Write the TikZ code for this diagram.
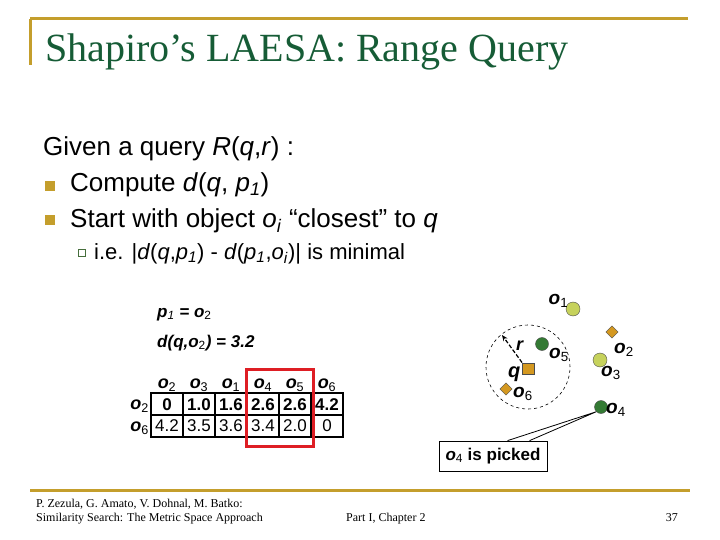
\documentclass[tikz,border=0pt]{standalone}
\usepackage{fontspec}
\setmainfont{Liberation Sans}
\newfontfamily\serifface{Liberation Serif}
\usetikzlibrary{arrows.meta,positioning,shapes.geometric,calc}
\definecolor{slgold}{RGB}{196,158,44}
\definecolor{slgreen}{RGB}{22,92,54}
\definecolor{subgreen}{RGB}{70,110,60}
\definecolor{ptlight}{RGB}{198,210,92}
\definecolor{ptdark}{RGB}{52,122,52}
\definecolor{ptgold}{RGB}{212,152,32}
\definecolor{pickred}{RGB}{222,30,36}
\newcommand{\ob}[1]{\textbf{\textit{o}}\textsubscript{\mdseries\upshape #1}}

\begin{document}
\begin{tikzpicture}[x=1pt,y=-1pt,
  txt/.style={anchor=base west,inner sep=0pt,font=\fontsize{26}{30}\selectfont},
  subtxt/.style={txt,font=\fontsize{22}{26}\selectfont},
  bullet/.style={fill=slgold,minimum size=10pt,inner sep=0pt},
  subbullet/.style={draw=subgreen,line width=0.8pt,minimum size=7pt,inner sep=0pt},
  cell/.style={draw,line width=1.8pt,minimum width=32pt,minimum height=21.7pt,inner sep=0pt,font=\fontsize{17}{19}\selectfont},
  val/.style={cell,font=\fontsize{17}{19}\selectfont\bfseries},
  hd/.style={inner sep=0pt,font=\fontsize{18}{20}\selectfont},
  lbl/.style={anchor=base west,inner sep=0pt,font=\fontsize{19}{21}\selectfont},
  note/.style={anchor=base west,inner sep=0pt,font=\fontsize{17}{19}\selectfont\bfseries\itshape},
  lightpt/.style={circle,draw=black!70,fill=ptlight,minimum size=14pt,inner sep=0pt},
  darkpt/.style={circle,draw=black!70,fill=ptdark,minimum size=13pt,inner sep=0pt},
  pivot/.style={diamond,draw=black!70,fill=ptgold,minimum size=12.5pt,inner sep=0pt},
  foot/.style={anchor=base west,inner sep=0pt,font=\serifface\fontsize{12}{14}\selectfont}
]
  \useasboundingbox (0,0) rectangle (720,540);
  % Frame lines
  \draw[slgold,line width=3pt] (30,19) -- (688,19);
  \draw[slgold,line width=3pt] (30,19) -- (30,65);
  \draw[slgold,line width=3pt] (30,490) -- (690,490);
  % Title
  \node[anchor=base west,inner sep=0pt,font=\serifface\fontsize{40}{44}\selectfont,text=slgreen] (title) at (45,62) {Shapiro’s LAESA: Range Query};
  % Bullets
  \node[txt] (given) at (43,156) {Given a query \textit{R}(\textit{q},\textit{r}) :};
  \node[bullet] (b1) at (50,186) {};
  \node[txt] (compute) at (70,192) {Compute \textit{d}(\textit{q}, \textit{p}\textsubscript{\textit{1}})};
  \node[bullet] (b2) at (50,220) {};
  \node[txt] (start) at (70,228) {Start with object \textit{o}\textsubscript{\textit{i}} “closest” to \textit{q}};
  \node[subbullet] (s1) at (82,253) {};
  \node[subtxt] (ie) at (94,259) {i.e. |\textit{d}(\textit{q},\textit{p}\textsubscript{\textit{1}}) - \textit{d}(\textit{p}\textsubscript{\textit{1}},\textit{o}\textsubscript{\textit{i}})| is minimal};
  % Pivot notes
  \node[note] (pdef) at (157,317) {p\textsubscript{\mdseries 1} = o\textsubscript{\mdseries\upshape 2}};
  \node[note] (dist) at (157,347) {d(q,o\textsubscript{\mdseries\upshape 2}) = 3.2};
  % Table -- column headers
  \node[hd] (h2) at (167,385) {\ob{2}};
  \node[hd] (h3) at (199,385) {\ob{3}};
  \node[hd] (h1) at (231,385) {\ob{1}};
  \node[hd] (h4) at (263,385) {\ob{4}};
  \node[hd] (h5) at (295,385) {\ob{5}};
  \node[hd] (h6) at (327,385) {\ob{6}};
  % Table -- row headers
  \node[hd,anchor=east] (r2) at (149,406) {\ob{2}};
  \node[hd,anchor=east] (r6) at (149,428) {\ob{6}};
  % Table -- o2 row
  \node[val] (a2) at (167,404.2) {0};
  \node[val] (a3) at (199,404.2) {1.0};
  \node[val] (a1) at (231,404.2) {1.6};
  \node[val] (a4) at (263,404.2) {2.6};
  \node[val] (a5) at (295,404.2) {2.6};
  \node[val] (a6) at (327,404.2) {4.2};
  % Table -- o6 row
  \node[cell] (b2c) at (167,425.9) {4.2};
  \node[cell] (b3c) at (199,425.9) {3.5};
  \node[cell] (b1c) at (231,425.9) {3.6};
  \node[cell] (b4c) at (263,425.9) {3.4};
  \node[cell] (b5c) at (295,425.9) {2.0};
  \node[cell] (b6c) at (327,425.9) {0};
  % Highlighted columns
  \draw[pickred,line width=3pt] (246,369) rectangle (313,446);
  % Objects in space
  \node[lightpt] (o1) at (573,309) {};
  \node[pivot] (o2) at (612,332) {};
  \node[lightpt] (o3) at (600,360) {};
  \node[darkpt] (o4) at (601,407) {};
  \node[darkpt] (o5) at (542,344) {};
  \node[pivot] (o6) at (506,389) {};
  \node[draw=black!70,fill=ptgold,minimum size=11.5pt,inner sep=0pt] (q) at (528,368.5) {};
  \draw[dashed,line width=0.6pt] (528,367) circle[radius=42pt];
  \coordinate (rend) at (502,335);
  \draw[line width=1.2pt,dash pattern=on 4pt off 2pt,-{Stealth[length=6pt,width=5pt]}] (q.north west) -- (rend);
  % Object labels
  \node[lbl] (l1) at (548.5,304) {\ob{1}};
  \node[lbl] (l2) at (614,353) {\ob{2}};
  \node[lbl] (l3) at (601,376) {\ob{3}};
  \node[lbl] (l4) at (606,413) {\ob{4}};
  \node[lbl] (l5) at (549,358) {\ob{5}};
  \node[lbl] (l6) at (513,397.5) {\ob{6}};
  \node[lbl,font=\fontsize{20}{22}\selectfont\bfseries\itshape] (lq) at (508,377) {q};
  \node[lbl,font=\fontsize{18}{20}\selectfont\bfseries\itshape] (lr) at (516,350) {r};
  % Callout
  \node[draw,line width=0.8pt,fill=white,minimum width=108pt,minimum height=30pt,inner sep=0pt,font=\fontsize{17}{20}\selectfont\bfseries] (pick) at (493,456) {\ob{4} is picked};
  \draw[line width=0.8pt] ($(pick.north west)+(69,0)$) -- (o4.south west) -- ($(pick.north west)+(91,0)$);
  % Footer
  \node[foot] (auth) at (36,507) {P. Zezula, G. Amato, V. Dohnal, M. Batko:};
  \node[foot] (book) at (36,521) {Similarity Search: The Metric Space Approach};
  \node[foot] (part) at (346,521) {Part I, Chapter 2};
  \node[foot,anchor=base east] (page) at (678,521) {37};
\end{tikzpicture}
\end{document}
